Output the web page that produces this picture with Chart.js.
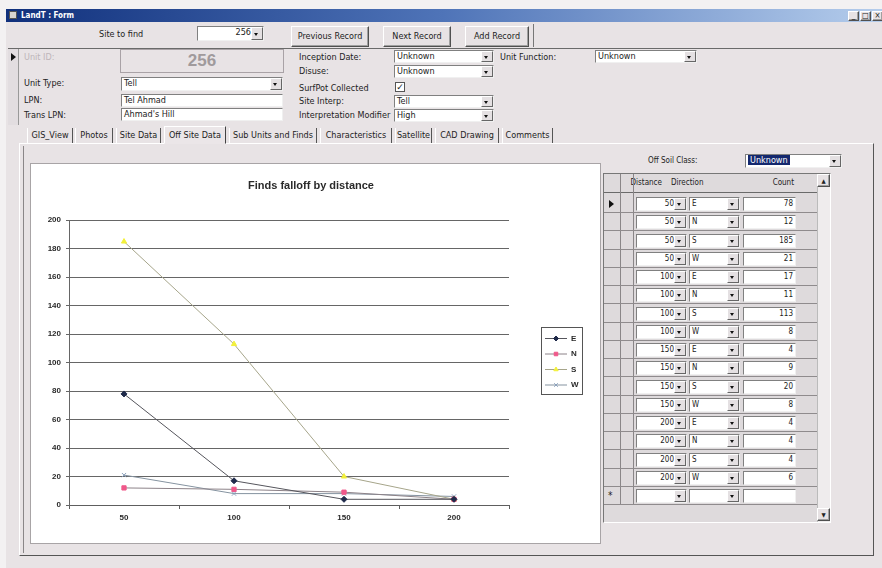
<!DOCTYPE html>
<html>
<head>
<meta charset="utf-8">
<title>LandT : Form</title>
<script src="https://cdn.jsdelivr.net/npm/chart.js@4.4.1/dist/chart.umd.min.js"></script>
<style>
  body { margin: 0; width: 882px; height: 568px; overflow: hidden; background: #f3f1f2; position: relative;
         font: 9px "Liberation Sans Narrow", "DejaVu Sans Condensed", "Liberation Sans", Arial, sans-serif; color: #222; }
  .a { position: absolute; white-space: nowrap; box-sizing: border-box; }
  .lb { line-height: 12px; }
  .in { background: #fff; border: 1px solid; border-color: #808080 #f0f0f0 #f0f0f0 #808080; line-height: 11px; padding: 0 2px; overflow: hidden; }
  .dd { position: absolute; right: 0; top: 0; bottom: 0; width: 10px; background: #e4e0e2; border: 1px solid; border-color: #fff #666 #666 #fff; }
  .dd::after { content: ""; position: absolute; left: 2px; top: 50%; margin-top: -1px; border: 2px solid transparent; border-top: 3px solid #111; }
  .btn { background: #e7e2e4; border: 1px solid; border-color: #fff #505050 #505050 #fff; text-align: center; box-shadow: inset -1px -1px 0 #a0a0a0; }
  .sub { font-size: 8px; }
</style>
</head>
<body>
<div id="form"></div>
<div class="a" style="left:31px;top:164px;width:569px;height:379px;background:#fff;outline:1px solid #a8a4a6;">
  <canvas id="finds" width="569" height="379"></canvas>
</div>
<script>
const distances = ['50', '100', '150', '200'];
const directions = ['E', 'N', 'S', 'W'];
const countE = [78, 17, 4, 4];
const countN = [12, 11, 9, 4];
const countS = [185, 113, 20, 4];
const countW = [21, 8, 8, 6];
const yMax = 200;
const yStep = 20;
const counts = [countE, countN, countS, countW];

// ---- the Access form around the chart ----
const form = document.getElementById('form');
function put(cls, x, y, w, h, text, css) {
  const d = document.createElement('div');
  d.className = 'a ' + cls;
  d.style.cssText = 'left:' + x + 'px;top:' + y + 'px;' + (w ? 'width:' + w + 'px;' : '') + (h ? 'height:' + h + 'px;' : '') + (css || '');
  if (text != null) d.textContent = text;
  form.appendChild(d);
  return d;
}
function lbl(x, y, text, css) { return put('lb', x, y - 6, 0, 12, text, css); }
function combo(x, y, w, h, text, right) {
  const d = put('in', x, y, w, h, text, right ? 'text-align:right;padding-right:12px;' : '');
  const a = document.createElement('div');
  a.className = 'dd';
  d.appendChild(a);
  return d;
}
function arrowRight(x, y) {
  put('', x, y - 4, 0, 0, null, 'border-top:4px solid transparent;border-bottom:4px solid transparent;border-left:5px solid #111;');
}

put('', 6, 9, 876, 559, null, 'background:#e8e3e5;');
put('', 6, 9, 876, 13, null, 'background:linear-gradient(90deg,#10307c,#4f74b8 50%,#b5cdec);');
put('', 9, 11, 8, 8, null, 'background:#d8d4d0;border:1px solid #555;');
put('', 21, 9, 0, 13, 'LandT : Form', 'color:#fff;font-weight:bold;font-size:8px;line-height:13px;');
['_', '\u25a1', '\u00d7'].forEach((t, i) => put('btn', 848 + i * 12, 11, 11, 10, t, 'font-size:8px;line-height:8px;'));

// header row
put('', 8, 23, 874, 26, null, 'border-bottom:1px solid #6a6a6a;');
lbl(99, 34, 'Site to find');
combo(197, 26, 67, 15, '256', true);
put('btn', 291, 26, 78, 21, 'Previous Record', 'line-height:18px;');
put('btn', 383, 26, 68, 21, 'Next Record', 'line-height:18px;');
put('btn', 465, 26, 64, 21, 'Add Record', 'line-height:18px;');
put('', 533, 24, 1, 23, null, 'background:#777;');

// record fields
put('', 8, 49, 11, 76, null, 'border-right:1px solid #999;background:#e2dde0;');
arrowRight(11, 57);
lbl(24, 57, 'Unit ID:', 'color:#bdb5b9;');
put('', 120, 49, 164, 24, '256', 'border:1px solid #a9a2a6;text-align:center;font:bold 17px "Liberation Sans",Arial,sans-serif;color:#a09a9c;line-height:22px;');
lbl(24, 83, 'Unit Type:'); combo(121, 77, 162, 14, 'Tell');
lbl(24, 100, 'LPN:'); put('in', 121, 94, 162, 13, 'Tel Ahmad');
lbl(24, 115, 'Trans LPN:'); put('in', 121, 108, 162, 13, "Ahmad's Hill");
lbl(299, 57, 'Inception Date:'); combo(394, 50, 100, 13, 'Unknown');
lbl(299, 71, 'Disuse:'); combo(394, 65, 100, 13, 'Unknown');
lbl(299, 88, 'SurfPot Collected');
put('', 395, 82, 10, 10, '\u2713', 'border:1px solid #555;background:#fff;font:bold 9px "DejaVu Sans",sans-serif;line-height:8px;text-align:center;');
lbl(299, 101, 'Site Interp:'); combo(394, 95, 100, 13, 'Tell');
lbl(299, 115, 'Interpretation Modifier'); combo(394, 109, 100, 13, 'High');
lbl(500, 57, 'Unit Function:'); combo(595, 50, 102, 13, 'Unknown');

// tab strip and page
put('', 19, 143, 855, 413, null, 'border:1px solid;border-color:#fff #555 #555 #fff;');
put('', 23, 146, 1, 407, null, 'background:#8a8688;');
const tabs = [['GIS_View', 27, 73], ['Photos', 75, 113], ['Site Data', 116, 161], ['Off Site Data', 164, 226],
  ['Sub Units and Finds', 229, 317], ['Characteristics', 320, 392], ['Satellite', 395, 432],
  ['CAD Drawing', 435, 499], ['Comments', 502, 553]];
tabs.forEach(([t, x0, x1]) => {
  if (t === 'Off Site Data') {
    put('', x0, 126, x1 - x0, 18, t, 'text-align:center;line-height:16px;background:#ebe6e8;border:1px solid;border-color:#fff #444 transparent #fff;');
  } else {
    put('', x0, 128, x1 - x0, 15, t, 'text-align:center;line-height:14px;border-right:1px solid #555;border-left:1px solid #fff;');
  }
});

// sub form: distance / direction / count grid
lbl(648, 161, 'Off Soil Class:', 'font-size:8px;');
const soil = put('in', 745, 154, 97, 14, null, '');
soil.innerHTML = '<span style="background:#14286e;color:#fff;padding:0 2px;">Unknown</span><div class="dd"></div>';
put('', 603, 173, 228, 350, null, 'border:1px solid;border-color:#777 #fff #fff #777;background:#dedadc;');
put('lb sub', 626, 177, 36, 12, 'Distance', 'text-align:right;');
put('lb sub', 671, 177, 0, 12, 'Direction');
put('lb sub', 758, 177, 36, 12, 'Count', 'text-align:right;');
put('', 604, 192, 213, 1, null, 'background:#6a6a6a;');
put('', 620, 174, 1, 330, null, 'background:#8a8688;');
put('', 633, 174, 1, 330, null, 'background:#8a8688;');
const rows = [];
distances.forEach((d, i) => directions.forEach((dir, j) => rows.push([d, dir, String(counts[j][i])])));
rows.push(['', '', '']);
rows.forEach((r, i) => {
  const top = Math.round(195 + i * 18.25);
  combo(636, top + 2, 51, 14, r[0], true).classList.add('sub');
  combo(689, top + 2, 51, 14, r[1]).classList.add('sub');
  put('in sub', 743, top + 2, 53, 14, r[2], 'text-align:right;');
  put('', 604, top + 17, 213, 1, null, 'background:#8f8b8d;');
  if (i === 0) arrowRight(609, top + 9);
  if (i === rows.length - 1) put('', 608, top + 3, 10, 12, '*', 'font-size:10px;line-height:12px;');
});
put('', 817, 174, 13, 348, null, 'background:#efeced;border-left:1px solid #bbb;');
put('btn', 817, 174, 13, 13, '\u25b2', 'font-size:6px;line-height:11px;');
put('btn', 817, 508, 13, 13, '\u25bc', 'font-size:6px;line-height:11px;');

// ---- chart ----
const fontFam = '"Liberation Sans", Arial, sans-serif';
const seriesStyle = [
  { line: '#55555c', mark: '#1f2a4a', shape: 'rectRot' },
  { line: '#8c8288', mark: '#f0588a', shape: 'rect' },
  { line: '#a6a58a', mark: '#f2f03a', shape: 'triangle' },
  { line: '#8593a0', mark: '#8aa0bb', shape: 'crossRot' },
];

// Excel puts the title over the whole chart object and the legend in its own framed box
const boxLegend = {
  id: 'boxLegend',
  afterLayout(chart) {
    if (chart.titleBlock) chart.titleBlock.right = chart.width - 9;
  },
  afterDraw(chart) {
    const { ctx, chartArea } = chart;
    const x = Math.round(chartArea.right) + 32;
    const y = Math.round((chartArea.top + chartArea.bottom) / 2) - 36;
    ctx.save();
    ctx.strokeStyle = '#555';
    ctx.lineWidth = 1;
    ctx.strokeRect(x + 0.5, y + 0.5, 41, 67);
    chart.data.datasets.forEach((ds, i) => {
      const cy = y + 11.5 + i * 15.5;
      ctx.strokeStyle = ds.borderColor;
      ctx.beginPath();
      ctx.moveTo(x + 4, cy);
      ctx.lineTo(x + 26, cy);
      ctx.stroke();
      ctx.fillStyle = ds.pointBackgroundColor;
      ctx.strokeStyle = ds.pointBorderColor;
      if (Chart.helpers && Chart.helpers.drawPoint) {
        Chart.helpers.drawPoint(ctx, { pointStyle: ds.pointStyle, radius: 2.5, borderWidth: 1, rotation: 0 }, x + 15, cy);
      } else {
        ctx.fillRect(x + 13, cy - 2, 5, 5);
      }
      ctx.fillStyle = '#2a2a2a';
      ctx.font = 'bold 8px ' + fontFam;
      ctx.textBaseline = 'middle';
      ctx.fillText(ds.label, x + 30, cy);
    });
    ctx.restore();
  }
};

new Chart(document.getElementById('finds'), {
  type: 'line',
  data: {
    labels: distances,
    datasets: directions.map((dir, j) => ({
      label: dir,
      data: counts[j],
      borderColor: seriesStyle[j].line,
      borderWidth: 1,
      pointStyle: seriesStyle[j].shape,
      pointRadius: 3,
      pointBorderWidth: 1,
      pointBackgroundColor: seriesStyle[j].mark,
      pointBorderColor: seriesStyle[j].mark,
      tension: 0,
    })),
  },
  options: {
    responsive: false,
    animation: false,
    layout: { padding: { left: 0, right: 91, top: 0, bottom: 0 } },
    plugins: {
      legend: { display: false },
      tooltip: { enabled: false },
      title: {
        display: true,
        text: 'Finds falloff by distance',
        color: '#2a2a2a',
        font: { family: fontFam, size: 11, weight: 'bold' },
        padding: { top: 15, bottom: 28 },
      },
    },
    scales: {
      x: {
        offset: true,
        grid: { drawOnChartArea: false, tickLength: 4, offset: true, color: '#5e5e5e' },
        border: { color: '#5e5e5e' },
        ticks: { color: '#2a2a2a', font: { family: fontFam, size: 8, weight: 'bold' }, padding: 4 },
        afterFit(s) { s.height = 38; },
      },
      y: {
        min: 0,
        max: yMax,
        ticks: { stepSize: yStep, color: '#2a2a2a', font: { family: fontFam, size: 8, weight: 'bold' }, padding: 5 },
        grid: { color: '#666666', tickLength: 3 },
        border: { color: '#666666' },
        afterFit(s) { s.width = 38; },
      },
    },
  },
  plugins: [boxLegend],
});
</script>
</body>
</html>
